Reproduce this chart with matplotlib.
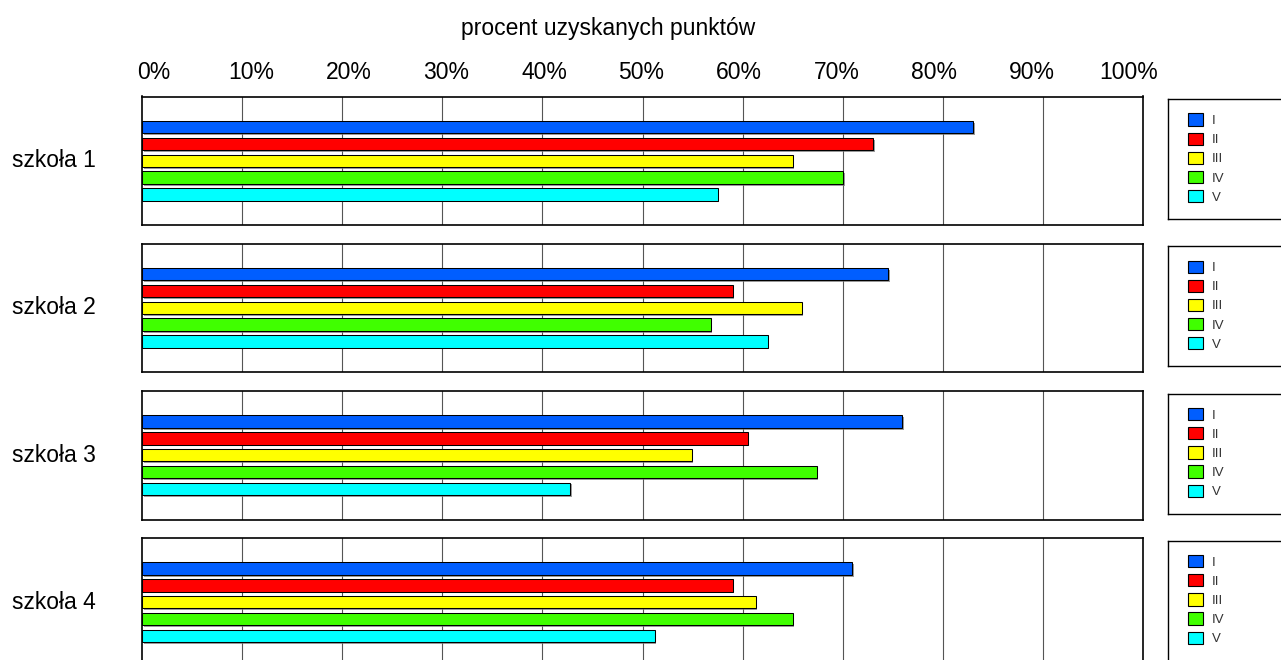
import matplotlib
matplotlib.use('Agg')
import matplotlib.pyplot as plt
import matplotlib.patheffects as pe
from matplotlib.patches import Patch

# ---- data ----
schools = ['szkoła 1', 'szkoła 2', 'szkoła 3', 'szkoła 4']
classes = ['I', 'II', 'III', 'IV', 'V']
colors = ['#005EFF', '#FF0000', '#FFFF00', '#40FF00', '#00FFFF']
values_s1 = [83.0, 73.0, 65.0, 70.0, 57.5]
values_s2 = [74.5, 59.0, 65.9, 56.8, 62.5]
values_s3 = [75.9, 60.5, 54.9, 67.4, 42.8]
values_s4 = [70.9, 59.0, 61.3, 65.0, 51.2]
tick_values = list(range(0, 101, 10))
tick_labels = [f'{t}%' for t in tick_values]
x_title = 'procent uzyskanych punktów'

all_values = [values_s1, values_s2, values_s3, values_s4]

W, H = 1281, 660
fig = plt.figure(figsize=(W / 100, H / 100), dpi=100)
plt.rcParams['font.family'] = ['Liberation Sans', 'DejaVu Sans']

tops = [96.5, 243.5, 391, 538]
ph = 128.5
left, width = 142, 1001

for i, (school, vals, top) in enumerate(zip(schools, all_values, tops)):
    ax = fig.add_axes([left / W, 1 - (top + ph) / H, width / W, ph / H])
    bars = ax.barh(range(len(classes)), vals, height=0.74, color=colors,
                   edgecolor='black', linewidth=0.75, zorder=3)
    for b in bars:
        b.set_path_effects([pe.SimplePatchShadow(offset=(1.3, -1.3), shadow_rgbFace='0.45', alpha=0.7),
                            pe.Normal()])
    ax.set_xlim(0, 100)
    ax.set_ylim(5.82, -1.82)
    ax.set_xticks(tick_values[1:-1])
    ax.set_yticks([])
    ax.grid(axis='x', color='#555555', linewidth=0.8, zorder=0)
    ax.tick_params(length=0, labelbottom=False, labelleft=False)
    for s in ax.spines.values():
        s.set_linewidth(1.2)
        s.set_color('black')
    fig.text(12.5 / W, 1 - (top + ph / 2) / H, school, ha='left', va='center',
             fontsize=16.5)

    if i == 0:
        sec = ax.secondary_xaxis('top', functions=(lambda x: (x - 1.2) / 0.974,
                                                   lambda t: 1.2 + 0.974 * t))
        sec.set_xticks(tick_values)
        sec.set_xticklabels(tick_labels, fontsize=16.5)
        sec.tick_params(length=0, pad=9.0)
        sec.spines['top'].set_visible(False)

    # legend box
    lh = 120
    lax = fig.add_axes([1168 / W, 1 - (top + 2.5 + lh) / H, 140 / W, lh / H])
    lax.set_xticks([])
    lax.set_yticks([])
    for s in lax.spines.values():
        s.set_linewidth(1.0)
        s.set_color('black')
    handles = [Patch(facecolor=c, edgecolor='black', linewidth=0.8) for c in colors]
    lax.legend(handles, classes, loc='upper left', bbox_to_anchor=(19.5 / 140, 1 - 14.5 / lh),
               borderaxespad=0, frameon=False, fontsize=9.5, handlelength=1.2,
               handleheight=1.05, handletextpad=0.65, labelspacing=0.42, borderpad=0,
               labelcolor='#333333')

fig.text(608.5 / W, 1 - 35 / H, x_title, ha='center', va='baseline', fontsize=16.5)

fig.savefig('out.png', dpi=100)
